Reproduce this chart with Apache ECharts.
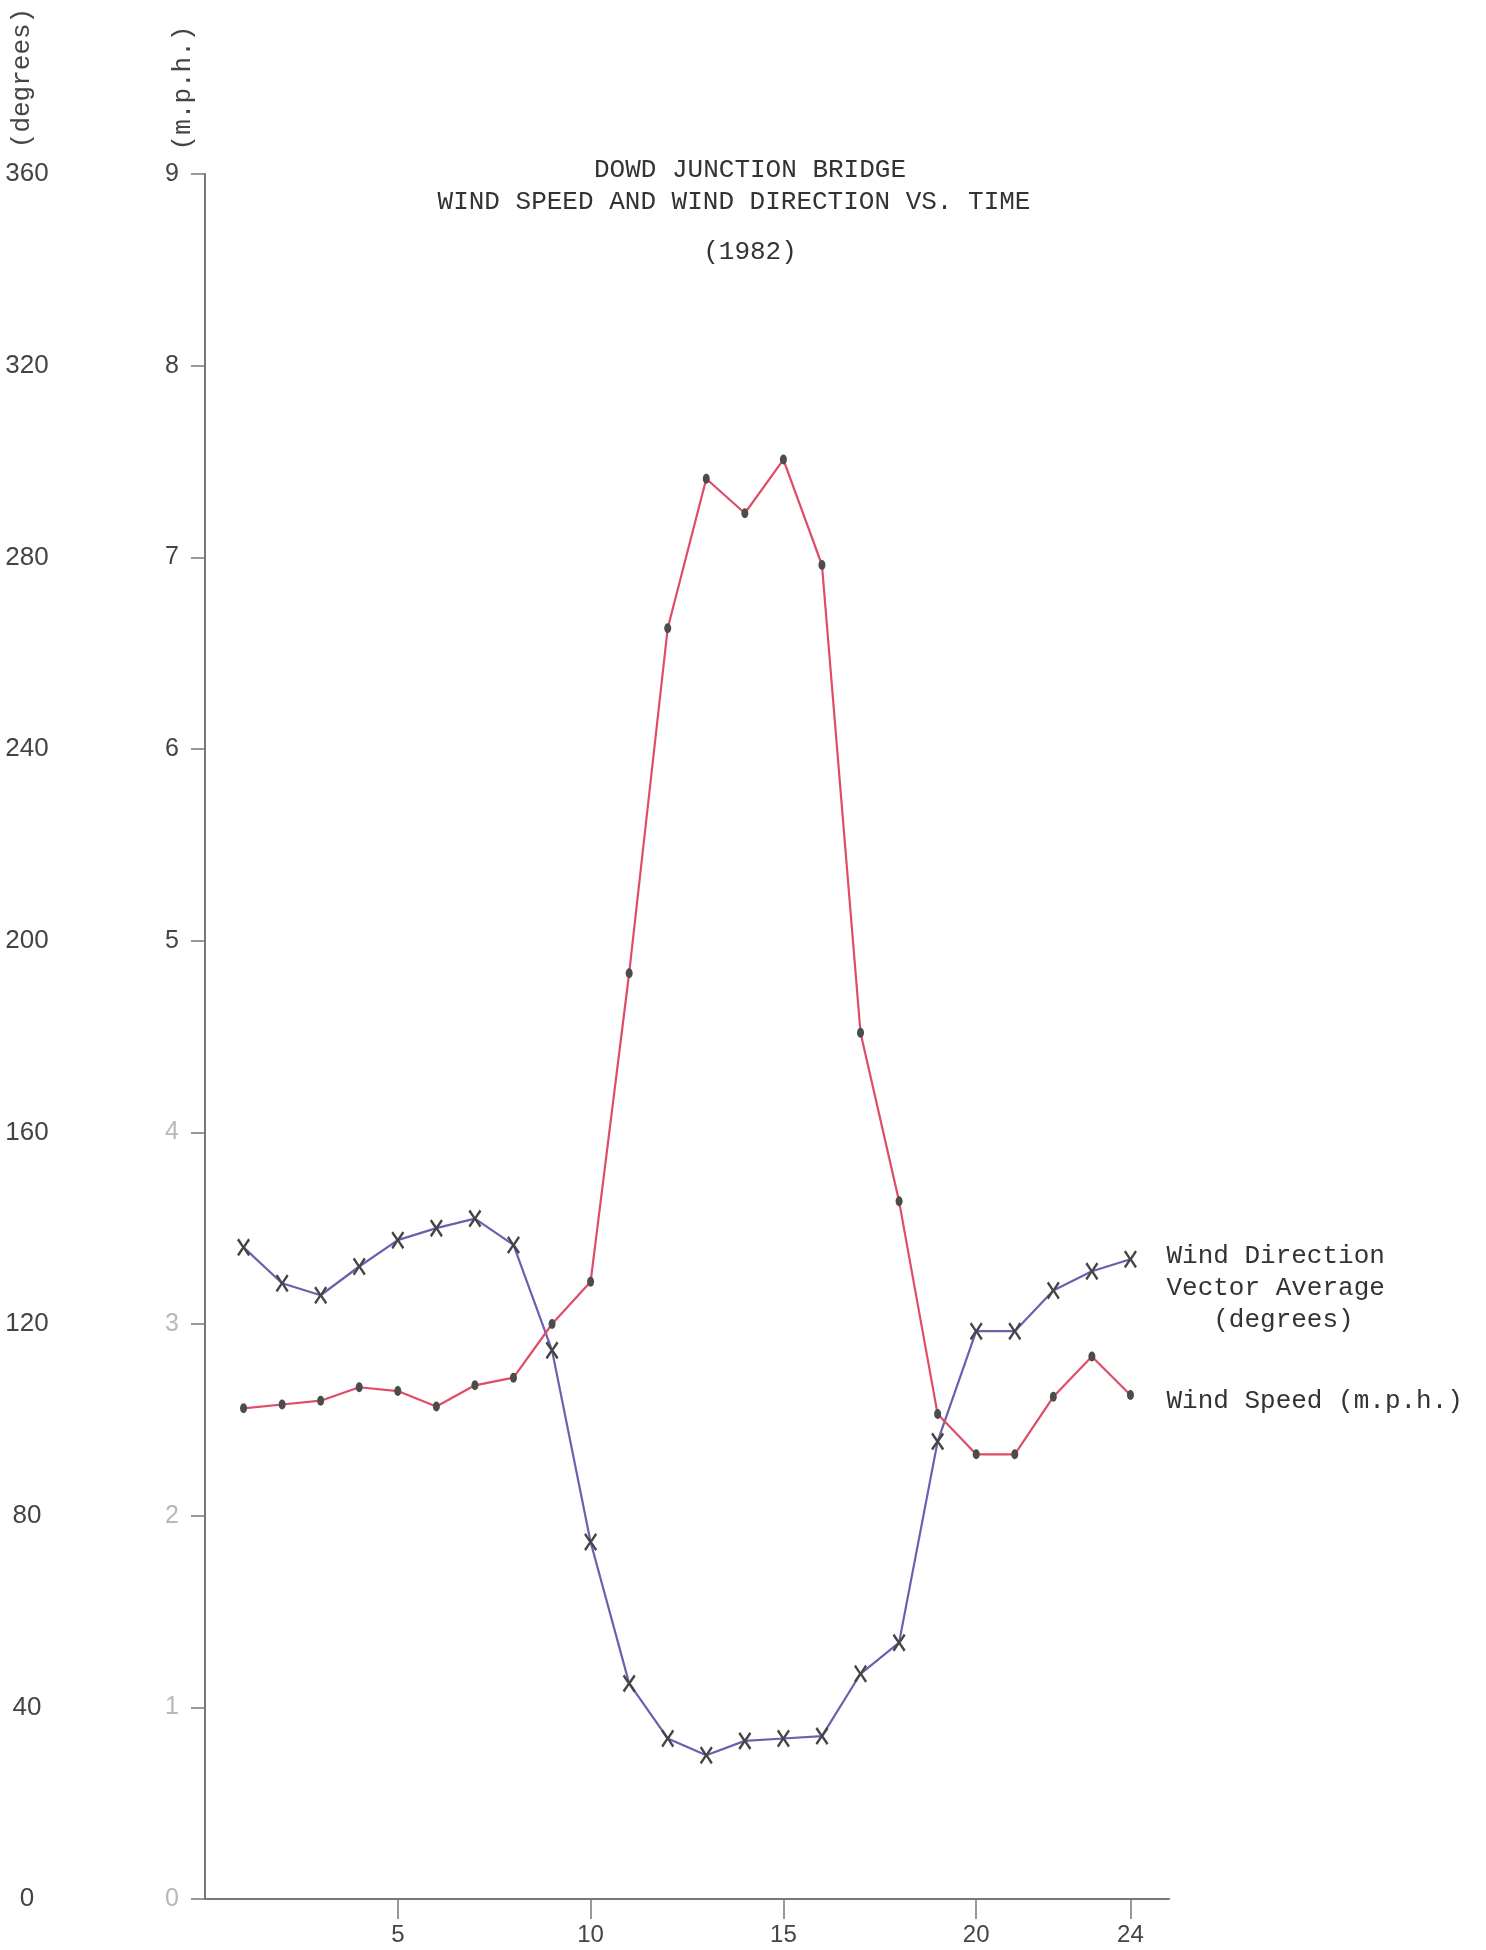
<!DOCTYPE html>
<html>
<head>
<meta charset="utf-8">
<script src="https://cdn.jsdelivr.net/npm/echarts@6/dist/echarts.min.js"></script>
<style>
  html, body { margin: 0; padding: 0; background: #ffffff; }
  #chart { width: 1486px; height: 1950px; }
</style>
</head>
<body>
<div id="chart"></div>
<script>
// Hourly averages, Dowd Junction Bridge, 1982
const hours = [1, 2, 3, 4, 5, 6, 7, 8, 9, 10, 11, 12, 13, 14, 15, 16, 17, 18, 19, 20, 21, 22, 23, 24];
const windSpeed = [2.56, 2.58, 2.60, 2.67, 2.65, 2.57, 2.68, 2.72, 3.00, 3.22, 4.83, 6.63,
                   7.41, 7.23, 7.51, 6.96, 4.52, 3.64, 2.53, 2.32, 2.32, 2.62, 2.83, 2.63];
const windDirection = [136, 128.5, 126, 132, 137.5, 140, 142, 136.5, 114.5, 74.5, 45, 33.5,
                       30, 33, 33.5, 34, 47, 53.5, 95.5, 118.5, 118.5, 127, 131, 133.5];
const hourTicks = [5, 10, 15, 20, 24];

const titleLines = ['DOWD JUNCTION BRIDGE', 'WIND SPEED AND WIND DIRECTION VS. TIME', '(1982)'];
const directionLabel = 'Wind Direction\nVector Average\n   (degrees)';
const speedLabel = 'Wind Speed (m.p.h.)';

const MONO = '"Liberation Mono", "DejaVu Sans Mono", monospace';
const SANS = '"Liberation Sans", Arial, sans-serif';

const speedPoints = hours.map((h, i) => [h, windSpeed[i]]);
const directionPoints = hours.map((h, i) => [h, windDirection[i]]);

// pen-drawn cross and ink dot markers
const crossSymbol = 'path://M1.4,0 L5,5.6 L8.6,0 L10,1.4 L6.2,7 L10,12.6 L8.6,14 L5,8.4 L1.4,14 L0,12.6 L3.8,7 L0,1.4 Z';
const dotSymbol = 'path://M5,0 A5,7 0 1,1 5,14 A5,7 0 1,1 5,0 Z';

const chart = echarts.init(document.getElementById('chart'), null, { renderer: 'canvas' });

chart.setOption({
  animation: false,
  backgroundColor: '#ffffff',
  grid: { left: 205, right: 317, top: 174, bottom: 51 },
  graphic: [
    { type: 'text', x: 750, y: 170, style: { text: titleLines[0], font: '26px ' + MONO, fill: '#333', textAlign: 'center', textVerticalAlign: 'middle' } },
    { type: 'text', x: 734, y: 202, style: { text: titleLines[1], font: '26px ' + MONO, fill: '#333', textAlign: 'center', textVerticalAlign: 'middle' } },
    { type: 'text', x: 750, y: 252, style: { text: titleLines[2], font: '26px ' + MONO, fill: '#333', textAlign: 'center', textVerticalAlign: 'middle' } },
    { type: 'text', x: 22, y: 78, rotation: Math.PI / 2, style: { text: '(degrees)', font: '26px ' + MONO, fill: '#444', textAlign: 'center', textVerticalAlign: 'middle' } },
    { type: 'text', x: 183, y: 88, rotation: Math.PI / 2, style: { text: '(m.p.h.)', font: '26px ' + MONO, fill: '#444', textAlign: 'center', textVerticalAlign: 'middle' } }
  ],
  xAxis: {
    type: 'value',
    min: 0,
    max: 25,
    splitLine: { show: false },
    axisLine: { show: true, onZero: false, lineStyle: { color: '#777', width: 2 } },
    axisTick: { show: true, customValues: hourTicks, length: 20, lineStyle: { color: '#777', width: 1.5 } },
    axisLabel: { customValues: hourTicks, margin: 24, fontFamily: SANS, fontSize: 24, color: '#444' }
  },
  yAxis: [
    {
      type: 'value',
      min: 0,
      max: 9,
      interval: 1,
      position: 'left',
      splitLine: { show: false },
      axisLine: { show: true, lineStyle: { color: '#777', width: 2 } },
      axisTick: { show: true, length: 14, lineStyle: { color: '#777', width: 1.5 } },
      axisLabel: {
        margin: 26,
        fontFamily: SANS,
        fontSize: 25,
        formatter: v => (v >= 5 ? '{d|' + v + '}' : '{l|' + v + '}'),
        rich: {
          d: { color: '#444', fontFamily: SANS, fontSize: 25 },
          l: { color: '#b8b8b8', fontFamily: SANS, fontSize: 25 }
        }
      }
    },
    {
      type: 'value',
      min: 0,
      max: 360,
      interval: 40,
      position: 'left',
      splitLine: { show: false },
      axisLine: { show: false },
      axisTick: { show: false },
      axisLabel: { margin: 178, align: 'center', fontFamily: SANS, fontSize: 26, color: '#444' }
    }
  ],
  series: [
    {
      name: 'Wind Direction Vector Average (degrees)',
      type: 'line',
      yAxisIndex: 1,
      data: directionPoints,
      symbol: crossSymbol,
      symbolSize: [13, 18],
      showAllSymbol: true,
      lineStyle: { color: '#6662ae', width: 2.2 },
      itemStyle: { color: '#454545' },
      endLabel: {
        show: true,
        formatter: directionLabel,
        distance: 0,
        offset: [36, 29],
        align: 'left',
        verticalAlign: 'middle',
        fontFamily: MONO,
        fontSize: 26,
        lineHeight: 32,
        color: '#333'
      },
      z: 3
    },
    {
      name: 'Wind Speed (m.p.h.)',
      type: 'line',
      yAxisIndex: 0,
      data: speedPoints,
      symbol: dotSymbol,
      symbolSize: [7, 10],
      showAllSymbol: true,
      lineStyle: { color: '#e04c66', width: 2.2 },
      itemStyle: { color: '#4c4c4c' },
      endLabel: {
        show: true,
        formatter: speedLabel,
        distance: 0,
        offset: [36, 6],
        align: 'left',
        verticalAlign: 'middle',
        fontFamily: MONO,
        fontSize: 26,
        color: '#333'
      },
      z: 4
    }
  ]
});
</script>
</body>
</html>
